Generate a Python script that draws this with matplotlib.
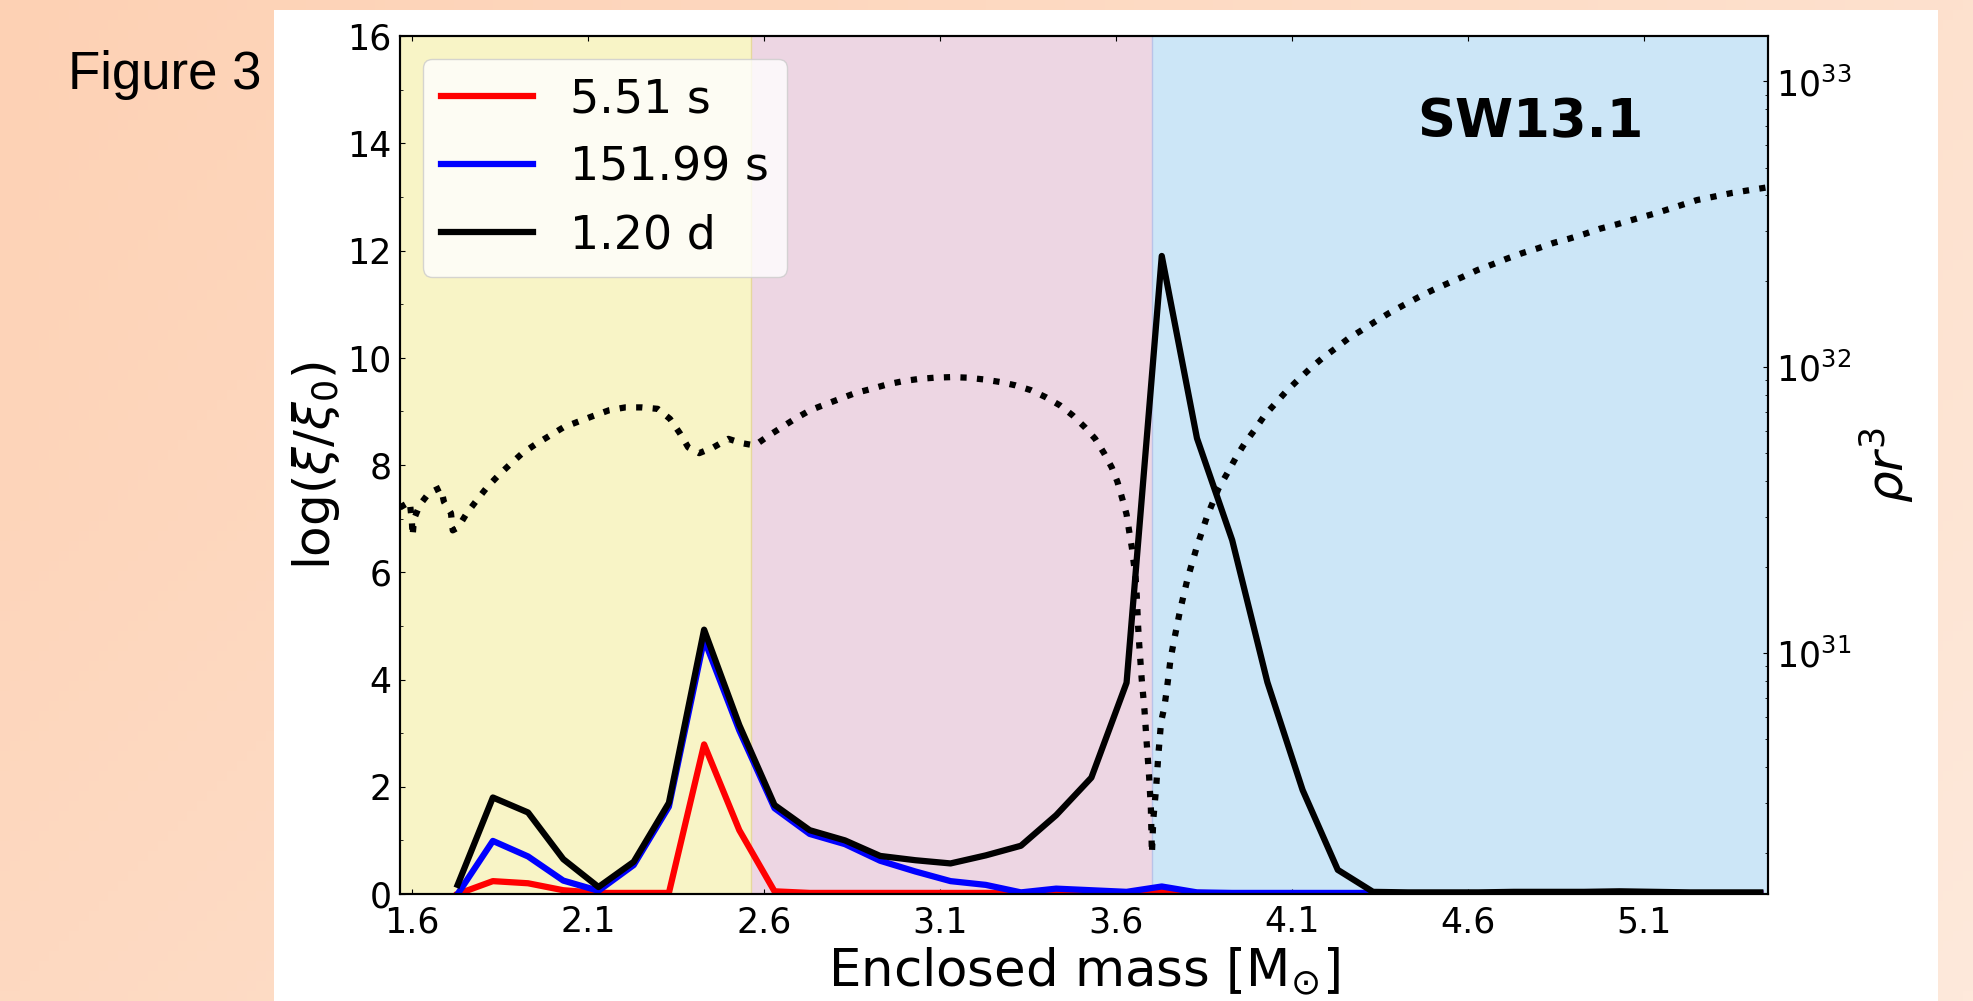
import numpy as np
import matplotlib.pyplot as plt
from matplotlib.patches import Rectangle
from matplotlib.ticker import MultipleLocator

# displacement ratio log(xi/xi0) at three times, sampled every 0.1 Msun
mass = [1.73, 1.83, 1.93, 2.03, 2.13, 2.23, 2.33, 2.43, 2.53, 2.63,
        2.73, 2.83, 2.93, 3.03, 3.13, 3.23, 3.33, 3.43, 3.53, 3.63,
        3.73, 3.83, 3.93, 4.03, 4.13, 4.23, 4.33, 4.43, 4.53, 4.63,
        4.73, 4.83, 4.93, 5.03, 5.13, 5.23, 5.33, 5.43]
xi_551s = [0.0, 0.24, 0.20, 0.07, 0.02, 0.02, 0.02, 2.79, 1.19, 0.05,
           0.02, 0.02, 0.02, 0.02, 0.02, 0.02, 0.02, 0.02, 0.02, 0.02,
           0.06, 0.02, 0.01, 0.01, 0.01, 0.01, 0.01, 0.01, 0.01, 0.01,
           0.01, 0.01, 0.01, 0.01, 0.01, 0.01, 0.01, 0.01]
xi_15199s = [0.0, 0.99, 0.70, 0.25, 0.06, 0.54, 1.63, 4.75, 3.05, 1.60,
             1.12, 0.93, 0.62, 0.42, 0.24, 0.17, 0.03, 0.10, 0.07, 0.04,
             0.14, 0.03, 0.02, 0.02, 0.02, 0.02, 0.02, 0.01, 0.01, 0.01,
             0.01, 0.01, 0.01, 0.01, 0.01, 0.01, 0.01, 0.01]
xi_120d = [0.17, 1.80, 1.52, 0.65, 0.13, 0.60, 1.70, 4.93, 3.15, 1.66,
           1.19, 1.00, 0.71, 0.63, 0.57, 0.72, 0.90, 1.47, 2.17, 3.94,
           11.9, 8.50, 6.60, 3.95, 1.94, 0.45, 0.04, 0.03, 0.03, 0.03,
           0.04, 0.04, 0.04, 0.05, 0.04, 0.03, 0.03, 0.03]
labels = ['5.51 s', '151.99 s', '1.20 d']

# density profile rho r^3 (log10 values)
rho_mass = [1.566, 1.594, 1.600, 1.602, 1.606, 1.623, 1.648, 1.682, 1.691, 1.711,
            1.716, 1.731, 1.756, 1.784, 1.813, 1.844, 1.878, 1.914, 1.950, 1.990,
            2.030, 2.072, 2.115, 2.160, 2.206, 2.253, 2.298, 2.333, 2.361, 2.385,
            2.416, 2.456, 2.499, 2.537, 2.574, 2.612, 2.650, 2.688, 2.731, 2.773,
            2.816, 2.859, 2.906, 2.949, 2.996, 3.043, 3.086, 3.133, 3.178, 3.223,
            3.270, 3.315, 3.359, 3.400, 3.441, 3.477, 3.512, 3.541, 3.566, 3.588,
            3.604, 3.618, 3.630, 3.637, 3.645, 3.651, 3.656, 3.659, 3.663, 3.666,
            3.673, 3.681, 3.687, 3.694, 3.699, 3.702, 3.706, 3.714, 3.720, 3.728,
            3.737, 3.744, 3.755, 3.764, 3.782, 3.803, 3.829, 3.859, 3.891, 3.919,
            3.943, 3.966, 3.993, 4.021, 4.052, 4.082, 4.116, 4.149, 4.184, 4.222,
            4.259, 4.298, 4.336, 4.376, 4.416, 4.457, 4.499, 4.541, 4.584, 4.626,
            4.669, 4.710, 4.755, 4.800, 4.842, 4.887, 4.932, 4.975, 5.022, 5.067,
            5.136, 5.250, 5.350, 5.452]
rho_log = [31.51, 31.53, 31.46, 31.41, 31.47, 31.52, 31.56, 31.58, 31.53, 31.49,
           31.43, 31.44, 31.49, 31.535, 31.58, 31.62, 31.66, 31.70, 31.73, 31.76,
           31.79, 31.81, 31.83, 31.85, 31.86, 31.86, 31.855, 31.82, 31.77, 31.72,
           31.70, 31.72, 31.75, 31.735, 31.727, 31.76, 31.79, 31.82, 31.85, 31.87,
           31.89, 31.91, 31.925, 31.94, 31.952, 31.96, 31.964, 31.966, 31.964, 31.958,
           31.949, 31.937, 31.92, 31.896, 31.867, 31.832, 31.79, 31.75, 31.70, 31.65,
           31.60, 31.54, 31.486, 31.43, 31.37, 31.31, 31.26, 31.20, 31.09, 31.03,
           30.91, 30.80, 30.69, 30.57, 30.46, 30.30, 30.42, 30.53, 30.64, 30.76,
           30.81, 30.87, 30.98, 31.04, 31.15, 31.26, 31.37, 31.48, 31.576, 31.636,
           31.69, 31.735, 31.78, 31.83, 31.873, 31.914, 31.955, 31.993, 32.03, 32.065,
           32.10, 32.13, 32.16, 32.19, 32.217, 32.244, 32.27, 32.293, 32.316, 32.34,
           32.36, 32.38, 32.40, 32.417, 32.435, 32.45, 32.467, 32.485, 32.50, 32.516,
           32.54, 32.585, 32.61, 32.63]

# shaded zones (edges in Msun)
zone_edges = [1.566, 2.563, 3.702, 5.452]
zone_colors = ['#F8F4C6', '#EDD6E3', '#CCE6F7']
xtick_vals = [1.6, 2.1, 2.6, 3.1, 3.6, 4.1, 4.6, 5.1]

fig = plt.figure(figsize=(19.73, 10.01), dpi=100)

# slide background: peach gradient with white panel
bg = fig.add_axes([0, 0, 1, 1], zorder=-10)
gx, gy = np.meshgrid(np.linspace(0, 1, 200), np.linspace(0, 1, 100))
t = (gx + 0.5 * gy) / 1.5
c0 = np.array([253, 209, 180]) / 255
c1 = np.array([254, 233, 219]) / 255
bg.imshow(c0 + (c1 - c0) * t[..., None], aspect='auto', extent=[0, 1, 0, 1], origin='upper')
bg.add_patch(Rectangle((274 / 1973, 0), (1938 - 274) / 1973, 1 - 10 / 1001,
                       transform=bg.transAxes, facecolor='white', edgecolor='none'))
bg.axis('off')
fig.text(68 / 1973, 1 - 89 / 1001, 'Figure 3', family='Liberation Sans', fontsize=38,
         ha='left', va='baseline')

ax = fig.add_axes([0.2027, 0.1069, 0.6934, 0.857])
for i in range(3):
    ax.axvspan(zone_edges[i], zone_edges[i + 1], color=zone_colors[i], lw=0, zorder=0)
ax.axvline(zone_edges[1], color='#E6D89C', lw=1, zorder=0.5)
ax.axvline(zone_edges[2], color='#B9C3E8', lw=1, zorder=0.5)

ax.plot(mass, xi_551s, color='red', lw=4.5, label=labels[0])
ax.plot(mass, xi_15199s, color='blue', lw=4.5, label=labels[1])
ax.plot(mass, xi_120d, color='black', lw=4.5, label=labels[2])

ax.set_xlim(zone_edges[0], zone_edges[-1])
ax.set_ylim(0, 16)
ax.set_xticks(xtick_vals)
ax.set_xticklabels([f'{v:.1f}' for v in xtick_vals])
ax.set_yticks(range(0, 17, 2))
ax.yaxis.set_minor_locator(MultipleLocator(1))
ax.tick_params(which='both', direction='in', top=True, right=False, labelsize=25)
ax.tick_params(axis='x', pad=8)
ax.tick_params(axis='y', pad=6)
ax.set_xlabel(r'Enclosed mass [M$_{\odot}$]', fontsize=37)
ax.set_ylabel(r'log($\xi/\xi_0$)', fontsize=36)
ax.legend(loc='upper left', fontsize=33)
ax.text(0.826, 0.899, 'SW13.1', transform=ax.transAxes, fontsize=38,
        fontweight='bold', ha='center', va='center')

ax2 = ax.twinx()
ax2.plot(rho_mass, 10 ** np.array(rho_log), color='black', ls=':', lw=4.5)
ax2.set_yscale('log')
ax2.set_ylim(1.44e30, 1.44e33)
ax2.tick_params(which='both', direction='in', labelsize=25, pad=6)
ax2.set_ylabel(r'$\rho r^3$', fontsize=36, labelpad=4)

for a in (ax, ax2):
    for s in a.spines.values():
        s.set_linewidth(1.5)

fig.savefig('out.png', dpi=100)
